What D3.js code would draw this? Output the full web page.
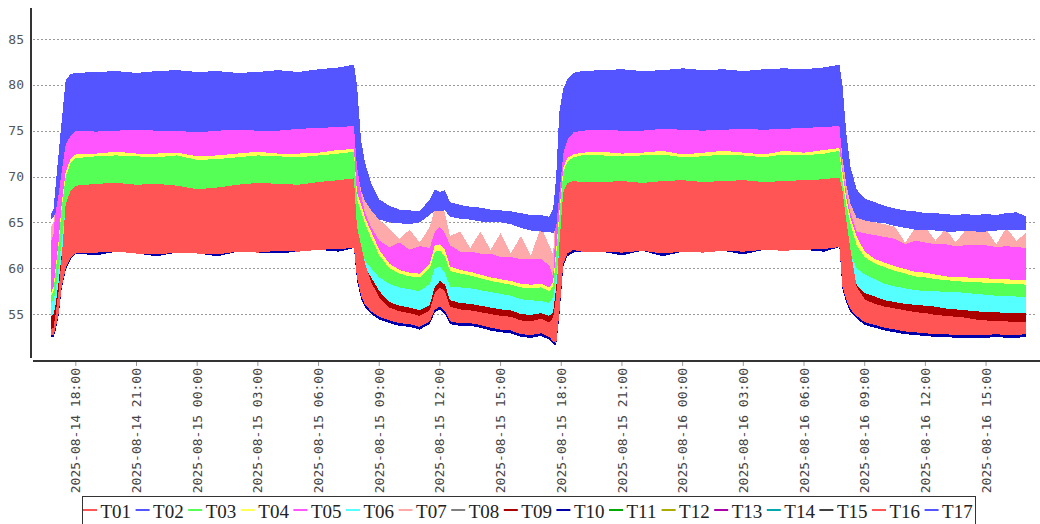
<!DOCTYPE html>
<html>
<head>
<meta charset="utf-8">
<script src="https://cdn.jsdelivr.net/npm/d3@7"></script>
<style>
    body { margin: 0; background: #fff; }
    .tick-y { font-family: "DejaVu Sans Mono", monospace; font-size: 13px; fill: #555; }
    .tick-x { font-family: "DejaVu Sans Mono", monospace; font-size: 13px; fill: #444; }
    .leyenda { font-family: "Liberation Serif", serif; font-size: 19px; fill: #222; }
</style>
</head>
<body>
<svg id="graph" width="1040" height="524"></svg>
<script>
// tiempos de muestreo (irregulares, mas densos en las transiciones)
var tiempos = [
    "2025-08-14 16:47", "2025-08-14 16:54", "2025-08-14 17:00", "2025-08-14 17:09", "2025-08-14 17:18", "2025-08-14 17:30", "2025-08-14 17:45", "2025-08-14 18:00",
    "2025-08-14 19:00", "2025-08-14 20:00", "2025-08-14 21:00", "2025-08-14 22:00", "2025-08-14 23:00", "2025-08-15 00:00", "2025-08-15 01:00",
    "2025-08-15 02:00", "2025-08-15 03:00", "2025-08-15 04:00", "2025-08-15 05:00", "2025-08-15 06:00", "2025-08-15 07:00", "2025-08-15 07:45",
    "2025-08-15 07:54", "2025-08-15 08:06", "2025-08-15 08:18", "2025-08-15 08:36", "2025-08-15 09:00", "2025-08-15 09:30", "2025-08-15 10:00",
    "2025-08-15 10:30", "2025-08-15 11:00", "2025-08-15 11:30", "2025-08-15 11:45", "2025-08-15 12:00", "2025-08-15 12:15", "2025-08-15 12:30",
    "2025-08-15 13:00", "2025-08-15 13:30", "2025-08-15 14:00", "2025-08-15 14:30", "2025-08-15 15:00", "2025-08-15 15:30", "2025-08-15 16:00",
    "2025-08-15 16:30", "2025-08-15 17:00", "2025-08-15 17:24", "2025-08-15 17:36",
    "2025-08-15 17:45", "2025-08-15 17:54", "2025-08-15 18:06", "2025-08-15 18:18", "2025-08-15 18:36", "2025-08-15 19:00",
    "2025-08-15 20:00", "2025-08-15 21:00", "2025-08-15 22:00", "2025-08-15 23:00", "2025-08-16 00:00", "2025-08-16 01:00", "2025-08-16 02:00",
    "2025-08-16 03:00", "2025-08-16 04:00", "2025-08-16 05:00", "2025-08-16 06:00", "2025-08-16 07:00", "2025-08-16 07:45",
    "2025-08-16 07:54", "2025-08-16 08:06", "2025-08-16 08:18", "2025-08-16 08:36", "2025-08-16 09:00", "2025-08-16 09:30", "2025-08-16 10:00",
    "2025-08-16 10:30", "2025-08-16 11:00", "2025-08-16 11:30", "2025-08-16 12:00", "2025-08-16 12:30", "2025-08-16 13:00", "2025-08-16 13:30",
    "2025-08-16 14:00", "2025-08-16 14:30", "2025-08-16 15:00", "2025-08-16 15:30", "2025-08-16 16:00", "2025-08-16 16:30", "2025-08-16 16:57"
];

// cada sensor oscila rapido: se guarda el minimo y el maximo de cada intervalo
var azulMax = [
    66.0, 66.5, 69.0, 72.5, 76.0, 80.5, 81.2, 81.3,
    81.4, 81.5, 81.3, 81.5, 81.6, 81.4, 81.5, 81.3, 81.4, 81.6, 81.4, 81.7, 81.9, 82.2,
    80.0, 74.0, 71.5, 69.3, 67.5, 66.8, 66.4, 66.3, 66.2, 67.5, 68.6, 68.3, 68.5, 67.2, 66.9, 66.7, 66.6, 66.4, 66.3, 66.2, 66.0, 65.8, 65.8, 65.6, 66.5,
    70.0, 77.0, 79.6, 80.6, 81.3, 81.5,
    81.6, 81.7, 81.5, 81.6, 81.8, 81.6, 81.7, 81.5, 81.7, 81.8, 81.7, 81.9, 82.2,
    80.0, 74.5, 71.0, 68.6, 67.6, 67.2, 66.8, 66.5, 66.3, 66.2, 66.0, 66.0, 65.9, 65.8, 65.9, 65.8, 65.9, 65.8, 66.0, 66.1, 65.7
];
var azulMin = [
    65.3, 65.6, 66.0, 68.0, 70.5, 73.5, 74.5, 75.0,
    74.9, 75.0, 75.1, 75.0, 75.0, 74.8, 75.0, 75.1, 75.0, 75.0, 75.2, 75.3, 75.4, 75.5,
    71.0, 68.5, 67.3, 66.3, 65.3, 65.0, 64.9, 64.8, 65.0, 65.8, 66.3, 66.2, 66.3, 65.6, 65.4, 65.3, 65.1, 65.0, 65.0, 64.8, 64.4, 64.1, 64.0, 64.0, 63.8,
    64.5, 68.0, 72.5, 74.0, 74.8, 75.0,
    75.1, 75.0, 75.0, 75.2, 75.1, 75.0, 75.1, 75.2, 75.1, 75.2, 75.3, 75.4, 75.5,
    72.0, 69.0, 67.0, 65.5, 65.2, 65.0, 64.9, 64.6, 64.4, 64.2, 64.2, 64.1, 64.0, 64.0, 64.1, 64.0, 64.0, 64.1, 64.2, 64.2, 64.2
];
var rosaMax = [
    64.6, 65.0, 67.5, 70.5, 74.0, 77.0, 77.5, 78.0,
    78.0, 78.0, 78.0, 78.0, 78.0, 78.0, 78.0, 78.0, 78.0, 78.0, 78.0, 78.0, 78.0, 78.0,
    74.0, 70.5, 68.5, 66.8, 65.3, 64.3, 63.2, 64.2, 62.8, 64.5, 66.5, 66.8, 66.0, 63.5, 64.0, 62.2, 64.0, 62.0, 63.8, 61.6, 63.5, 61.4, 64.5, 62.5, 61.5,
    68.0, 73.0, 77.5, 78.0, 78.0, 78.0,
    78.0, 78.0, 78.0, 78.0, 78.0, 78.0, 78.0, 78.0, 78.0, 78.0, 78.0, 78.0, 78.0,
    74.0, 70.0, 67.5, 65.5, 65.2, 65.0, 64.8, 64.5, 62.8, 64.4, 64.5, 63.0, 64.3, 62.8, 64.2, 64.0, 64.3, 62.6, 64.4, 63.0, 63.8
];
var rosaMin = [
    63.0, 63.8, 66.5, 69.0, 72.0, 75.0, 75.5, 76.0,
    76.0, 76.0, 76.0, 76.0, 76.0, 76.0, 76.0, 76.0, 76.0, 76.0, 76.0, 76.0, 76.0, 76.0,
    71.5, 68.0, 66.0, 64.5, 63.0, 62.3, 62.8, 62.0, 62.4, 62.2, 64.0, 64.5, 63.8, 62.5, 61.8, 61.8, 61.6, 61.6, 61.2, 61.2, 61.0, 61.0, 61.0, 60.3, 59.0,
    66.0, 70.0, 75.5, 76.0, 76.0, 76.0,
    76.0, 76.0, 76.0, 76.0, 76.0, 76.0, 76.0, 76.0, 76.0, 76.0, 76.0, 76.0, 76.0,
    71.0, 68.0, 66.0, 64.0, 63.8, 63.6, 63.4, 63.2, 62.6, 63.0, 62.8, 62.6, 62.6, 62.4, 62.5, 62.5, 62.5, 62.3, 62.4, 62.3, 62.2
];
var amarilloMax = [
    57.3, 58.0, 60.0, 63.0, 67.0, 70.5, 72.0, 72.4,
    72.5, 72.7, 72.5, 72.5, 72.6, 72.2, 72.3, 72.5, 72.7, 72.5, 72.5, 72.6, 72.9, 73.0,
    68.2, 67.0, 65.5, 64.0, 62.0, 60.5, 59.8, 59.5, 59.4, 60.5, 62.5, 62.6, 62.0, 60.2, 59.8, 59.6, 59.3, 59.0, 58.8, 58.6, 58.3, 58.2, 58.3, 57.9, 58.5,
    62.0, 66.0, 71.0, 72.0, 72.4, 72.6,
    72.7, 72.5, 72.6, 72.8, 72.4, 72.6, 72.8, 72.6, 72.4, 72.8, 72.6, 72.9, 73.1,
    70.5, 67.5, 65.5, 63.5, 61.8, 61.0, 60.6, 60.2, 59.9, 59.6, 59.5, 59.3, 59.1, 59.0, 59.0, 58.9, 58.9, 58.8, 58.8, 58.7, 58.7
];
var verdeMax = [
    57.0, 57.5, 59.5, 62.5, 66.5, 70.0, 71.5, 72.0,
    72.2, 72.3, 72.2, 72.1, 72.3, 71.8, 71.9, 72.1, 72.3, 72.2, 72.1, 72.3, 72.5, 72.7,
    67.5, 66.2, 64.8, 63.3, 61.4, 60.0, 59.4, 59.1, 59.0, 60.0, 61.8, 61.9, 61.3, 59.7, 59.4, 59.2, 58.9, 58.6, 58.4, 58.2, 57.9, 57.8, 57.9, 57.5, 58.0,
    61.5, 65.5, 70.5, 71.6, 72.1, 72.3,
    72.3, 72.2, 72.3, 72.4, 72.1, 72.2, 72.4, 72.3, 72.1, 72.4, 72.3, 72.5, 72.8,
    69.5, 66.8, 64.8, 62.5, 61.2, 60.5, 60.1, 59.7, 59.4, 59.1, 59.0, 58.8, 58.7, 58.6, 58.5, 58.5, 58.4, 58.4, 58.3, 58.3, 58.2
];
var cianMax = [
    56.2, 56.5, 57.5, 60.0, 63.0, 66.5, 68.0, 68.0,
    68.0, 68.0, 68.0, 68.0, 68.0, 68.0, 68.0, 68.0, 68.0, 68.0, 68.0, 68.0, 68.0, 68.0,
    63.5, 62.0, 60.8, 60.0, 59.0, 58.3, 57.9, 57.7, 57.5, 58.3, 60.0, 60.2, 59.5, 58.0, 57.9, 57.8, 57.6, 57.4, 57.2, 57.0, 56.6, 56.5, 56.4, 56.2, 56.8,
    59.0, 62.0, 66.5, 68.0, 68.0, 68.0,
    68.0, 68.0, 68.0, 68.0, 68.0, 68.0, 68.0, 68.0, 68.0, 68.0, 68.0, 68.0, 68.0,
    66.0, 63.5, 61.5, 60.0, 59.3, 58.8, 58.3, 58.0, 57.8, 57.6, 57.5, 57.5, 57.4, 57.4, 57.3, 57.2, 57.1, 57.0, 57.0, 56.9, 56.9
];
var granateMax = [
    54.8, 55.0, 56.0, 58.5, 61.5, 64.5, 66.5, 66.5,
    66.5, 66.5, 66.5, 66.5, 66.5, 66.5, 66.5, 66.5, 66.5, 66.5, 66.5, 66.5, 66.5, 66.5,
    63.0, 61.5, 60.0, 59.0, 57.5, 56.3, 55.9, 55.7, 55.4, 56.0, 58.0, 58.6, 58.2, 56.5, 56.2, 56.1, 55.9, 55.7, 55.5, 55.4, 55.0, 54.9, 55.1, 54.8, 55.2,
    58.0, 61.0, 65.0, 66.0, 66.5, 66.5,
    66.5, 66.5, 66.5, 66.5, 66.5, 66.5, 66.5, 66.5, 66.5, 66.5, 66.5, 66.5, 66.5,
    64.0, 61.5, 59.5, 58.2, 57.3, 56.9, 56.5, 56.3, 56.1, 56.0, 55.9, 55.8, 55.6, 55.5, 55.4, 55.3, 55.2, 55.2, 55.1, 55.1, 55.1
];
var rojoMax = [
    53.4, 53.5, 55.0, 57.5, 61.0, 67.0, 68.5, 69.0,
    69.2, 69.3, 69.1, 69.2, 69.0, 68.6, 68.8, 69.1, 69.3, 69.2, 69.1, 69.4, 69.6, 69.8,
    64.5, 62.5, 60.5, 58.5, 56.8, 55.7, 55.3, 55.1, 54.8, 55.4, 57.3, 57.9, 57.5, 55.8, 55.5, 55.4, 55.2, 55.0, 54.8, 54.7, 54.3, 54.2, 54.5, 54.1, 54.6,
    57.0, 62.5, 68.3, 69.3, 69.5, 69.4,
    69.4, 69.5, 69.3, 69.5, 69.6, 69.4, 69.5, 69.6, 69.4, 69.5, 69.6, 69.7, 69.9,
    68.5, 65.0, 62.0, 58.0, 56.6, 56.1, 55.8, 55.6, 55.4, 55.2, 55.1, 54.9, 54.8, 54.7, 54.6, 54.4, 54.3, 54.2, 54.2, 54.1, 54.1
];
var rojoMin = [
    52.7, 52.7, 53.5, 55.0, 58.0, 60.0, 61.2, 61.6,
    61.7, 61.8, 61.6, 61.5, 61.7, 61.6, 61.5, 61.8, 61.7, 61.9, 61.8, 62.0, 62.1, 62.2,
    59.0, 57.0, 56.0, 55.3, 54.7, 54.3, 54.0, 53.9, 53.6, 54.2, 55.5, 55.8, 55.3, 54.2, 54.0, 54.0, 53.8, 53.5, 53.3, 53.2, 52.8, 52.7, 52.9, 52.5, 52.0,
    51.8, 55.0, 60.5, 61.6, 62.0, 61.8,
    61.8, 61.7, 61.9, 61.6, 61.8, 61.7, 61.9, 61.8, 62.0, 61.9, 62.0, 62.1, 62.3,
    58.0, 56.5, 55.5, 54.8, 54.1, 53.8, 53.5, 53.3, 53.1, 53.0, 52.9, 52.8, 52.8, 52.7, 52.7, 52.7, 52.7, 52.8, 52.7, 52.7, 52.8
];
var marinoMin = [
    52.5, 52.5, 53.2, 54.8, 57.7, 59.8, 61.0, 61.6,
    61.4, 61.8, 61.6, 61.3, 61.7, 61.6, 61.3, 61.8, 61.7, 61.6, 61.8, 62.0, 61.8, 62.2,
    58.7, 56.7, 55.7, 55.0, 54.4, 54.0, 53.7, 53.6, 53.3, 53.9, 55.2, 55.5, 55.0, 53.9, 53.7, 53.7, 53.5, 53.2, 53.0, 52.9, 52.5, 52.4, 52.6, 52.2, 51.7,
    51.6, 54.7, 60.2, 61.3, 61.7, 61.8,
    61.8, 61.4, 61.9, 61.3, 61.8, 61.7, 61.9, 61.5, 62.0, 61.9, 62.0, 61.8, 62.3,
    57.7, 56.2, 55.2, 54.5, 53.8, 53.5, 53.2, 53.0, 52.8, 52.7, 52.6, 52.5, 52.5, 52.4, 52.4, 52.4, 52.4, 52.5, 52.4, 52.4, 52.5
];

var sensores = ["T01", "T02", "T03", "T04", "T05", "T06", "T07", "T08", "T09",
    "T10", "T11", "T12", "T13", "T14", "T15", "T16", "T17"];
var colores = ["#ff5555", "#5555ff", "#55ff55", "#ffff55", "#ff55ff", "#55ffff", "#ffaaaa", "#808080", "#aa0000",
    "#0000aa", "#00aa00", "#aaaa00", "#aa00aa", "#00aaaa", "#404040", "#ff5555", "#5555ff"];
// [minimo, maximo] de cada sensor; los que quedan tapados comparten banda con T16/T17
var bandas = [
    [rojoMin, rojoMax], [azulMin, azulMax], [cianMax, verdeMax], [verdeMax, amarilloMax],
    [amarilloMax, rosaMin], [rojoMin, cianMax], [rosaMin, rosaMax], [rojoMin, rojoMax],
    [rojoMin, granateMax], [marinoMin, rojoMax], [rojoMin, rojoMax], [rojoMin, rojoMax],
    [rojoMin, rojoMax], [rojoMin, rojoMax], [azulMin, azulMax], [rojoMin, rojoMax], [azulMin, azulMax]
];

var ticksY = [55, 60, 65, 70, 75, 80, 85];
var ticksX = ["2025-08-14 18:00", "2025-08-14 21:00", "2025-08-15 00:00", "2025-08-15 03:00",
    "2025-08-15 06:00", "2025-08-15 09:00", "2025-08-15 12:00", "2025-08-15 15:00",
    "2025-08-15 18:00", "2025-08-15 21:00", "2025-08-16 00:00", "2025-08-16 03:00",
    "2025-08-16 06:00", "2025-08-16 09:00", "2025-08-16 12:00", "2025-08-16 15:00"];

function creaGrafica() {
    var parse = d3.timeParse("%Y-%m-%d %H:%M");
    var fechas = tiempos.map(parse);
    var svg = d3.select("#graph");

    var x = d3.scaleTime()
        .domain([parse("2025-08-14 15:53"), parse("2025-08-16 17:40")])
        .range([33, 1040]);
    var y = d3.scaleLinear()
        .domain([55, 85])
        .range([314, 39]);

    // lineas de rejilla punteadas
    svg.append("g").selectAll("line")
        .data(ticksY).enter().append("line")
        .attr("x1", 33).attr("x2", 1035)
        .attr("y1", d => Math.round(y(d)) + 0.5).attr("y2", d => Math.round(y(d)) + 0.5)
        .attr("stroke", "#999").attr("stroke-width", 1)
        .attr("stroke-dasharray", "2,2");

    // bandas de cada sensor, en orden (T17 queda encima)
    var g = svg.append("g");
    sensores.forEach(function (s, i) {
        var lo = bandas[i][0], hi = bandas[i][1];
        var area = d3.area()
            .x((d, k) => x(fechas[k]))
            .y0((d, k) => y(lo[k]))
            .y1((d, k) => y(hi[k]));
        g.append("path")
            .datum(fechas)
            .attr("d", area)
            .attr("fill", colores[i])
            .attr("shape-rendering", "crispEdges");
    });

    // ejes
    svg.append("line").attr("x1", 31).attr("x2", 31).attr("y1", 8).attr("y2", 358)
        .attr("stroke", "#333").attr("stroke-width", 2);
    svg.append("line").attr("x1", 33).attr("x2", 1040).attr("y1", 361).attr("y2", 361)
        .attr("stroke", "#333").attr("stroke-width", 2);

    svg.append("g").selectAll("text")
        .data(ticksY).enter().append("text")
        .attr("class", "tick-y")
        .attr("x", 24).attr("y", d => y(d))
        .attr("dy", "0.35em")
        .attr("text-anchor", "end")
        .text(d => d);

    var tx = svg.append("g").selectAll("g")
        .data(ticksX).enter().append("g")
        .attr("transform", d => "translate(" + x(parse(d)) + ",0)");
    tx.append("line").attr("y1", 362).attr("y2", 366)
        .attr("stroke", "#999");
    tx.append("text")
        .attr("class", "tick-x")
        .attr("transform", "translate(0,368) rotate(-90)")
        .attr("dy", "0.35em")
        .attr("text-anchor", "end")
        .text(d => d);

    // leyenda
    var ley = svg.append("g");
    ley.append("rect")
        .attr("x", 82.5).attr("y", 496.5).attr("width", 893).attr("height", 40)
        .attr("fill", "#fff").attr("stroke", "#333");
    var item = ley.selectAll(".item")
        .data(sensores).enter().append("g")
        .attr("class", "item")
        .attr("transform", (d, i) => "translate(" + (83 + i * 52.6) + ",0)");
    item.append("line")
        .attr("x1", 0).attr("x2", 14).attr("y1", 510).attr("y2", 510)
        .attr("stroke", (d, i) => colores[i]).attr("stroke-width", 2);
    item.append("text")
        .attr("class", "leyenda")
        .attr("x", 17.5).attr("y", 517.5)
        .text(d => d);
}

creaGrafica();
</script>
</body>
</html>
